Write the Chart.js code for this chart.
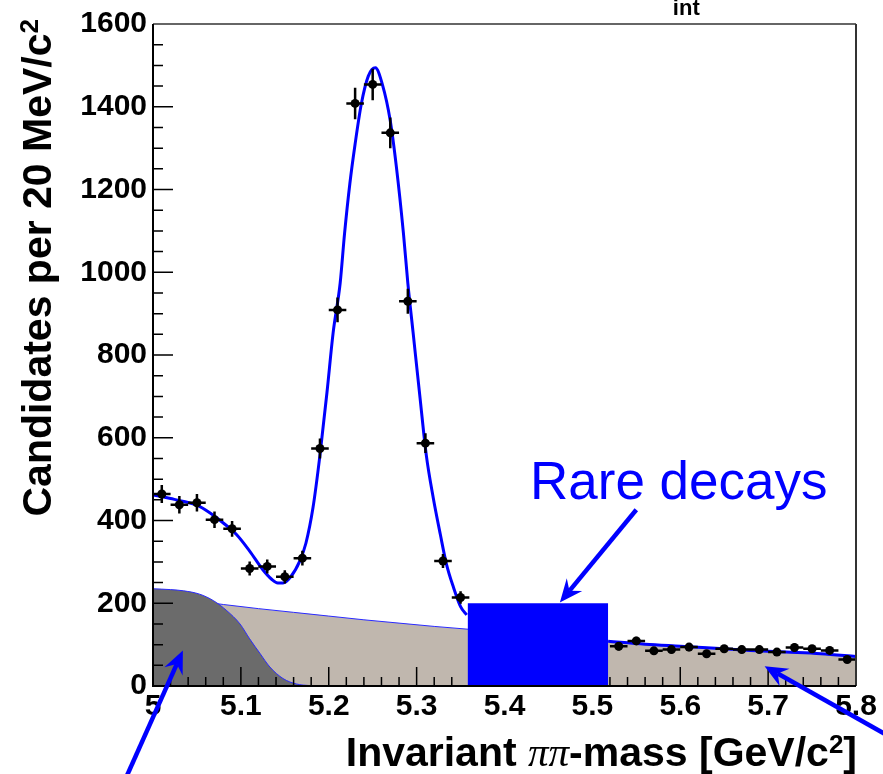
<!DOCTYPE html>
<html lang="en">
<head>
  <meta charset="UTF-8" />
  <title>Invariant pi pi mass</title>
  <script src="https://cdn.jsdelivr.net/npm/chart.js"></script>
  <style>
    html, body { margin: 0; padding: 0; background: #fff; }
    #wrap { width: 883px; height: 774px; }
  </style>
</head>
<body>
  <div id="wrap"><canvas id="chart" width="883" height="774"></canvas></div>

  <script>
    // binned data (bin centres, 20 MeV bins), blinded region removed
    const massBins = [5.01, 5.03, 5.05, 5.07, 5.09, 5.11, 5.13, 5.15, 5.17, 5.19, 5.21, 5.23, 5.25, 5.27, 5.29, 5.31, 5.33, 5.35,
                      5.53, 5.55, 5.57, 5.59, 5.61, 5.63, 5.65, 5.67, 5.69, 5.71, 5.73, 5.75, 5.77, 5.79];
    const counts = [464, 438, 443, 402, 380, 284, 289, 264, 309, 574, 909, 1408, 1454, 1337, 930, 587, 302, 214,
                    96, 109, 85, 88, 94, 78, 90, 88, 88, 82, 93, 90, 86, 64];
    const countErrs = [22, 21, 21, 20, 19, 17, 17, 16, 18, 24, 30, 38, 38, 37, 30, 24, 17, 15,
                       10, 10, 9, 9, 10, 9, 9, 9, 9, 9, 10, 9, 9, 8];
    const binHalf = 0.01;

    // total fit curve (gap under the blinded box)
    const fitMass = [5.0, 5.02, 5.035, 5.05, 5.065, 5.08, 5.095, 5.11, 5.125, 5.135, 5.142, 5.148, 5.156, 5.167, 5.174,
                     5.182, 5.19, 5.198, 5.205, 5.213, 5.218, 5.224, 5.23, 5.237, 5.245, 5.253, 5.261, 5.27, 5.277, 5.285,
                     5.29, 5.296, 5.304, 5.311, 5.319, 5.327, 5.334, 5.342, 5.35, 5.357,
                     5.44,
                     5.518, 5.56, 5.6, 5.64, 5.68, 5.72, 5.76, 5.8];
    const fitValues = [462, 453, 446, 437, 418, 394, 366, 326, 281, 258, 249, 249, 262, 302, 345,
                       430, 558, 710, 854, 974, 1094, 1214, 1310, 1406, 1474, 1494, 1454, 1366, 1254, 1094,
                       974, 854, 694, 558, 454, 366, 294, 238, 192, 172,
                       null,
                       108, 101, 96, 91, 86, 82, 78, 71];

    // combinatorial background
    const combMass = [5.0, 5.04, 5.08, 5.12, 5.16, 5.2, 5.24, 5.28, 5.32, 5.36, 5.4, 5.44, 5.48, 5.52,
                      5.56, 5.6, 5.64, 5.68, 5.72, 5.76, 5.8];
    const combValues = [219, 208, 197, 187, 178, 169, 160, 152, 144, 137, 130, 124, 116, 108,
                        102, 97, 92, 87, 82, 77, 71];

    // partially reconstructed background
    const partMass = [5.0, 5.02, 5.035, 5.053, 5.069, 5.084, 5.099, 5.11, 5.122, 5.133, 5.148, 5.163, 5.179, 5.2, 5.22];
    const partValues = [235, 233, 230, 222, 206, 182, 150, 114, 78, 46, 18, 5, 1, 0, 0];

    // blinded "rare decays" window
    const blindMass = [5.358, 5.518];
    const blindTop = 200;

    const xTickValues = [5, 5.1, 5.2, 5.3, 5.4, 5.5, 5.6, 5.7, 5.8];
    const xTickLabels = ['5', '5.1', '5.2', '5.3', '5.4', '5.5', '5.6', '5.7', '5.8'];
    const yTickValues = [0, 200, 400, 600, 800, 1000, 1200, 1400, 1600];
    const yTickLabels = ['0', '200', '400', '600', '800', '1000', '1200', '1400', '1600'];

    const BLUE = '#0000ff';
    const SANS = '"Liberation Sans", Arial, sans-serif';

    const pts = (xs, ys) => xs.map((x, i) => ({ x: x, y: ys[i] }));

    function drawInnerTicks(chart) {
      const { ctx, scales: { x, y }, chartArea: a } = chart;
      ctx.save();
      ctx.strokeStyle = '#000';
      ctx.lineWidth = 1.5;
      ctx.beginPath();
      for (let k = 0; k <= 40; k++) {
        const px = x.getPixelForValue(5 + k * 0.02);
        const len = k % 5 === 0 ? 19 : 9;
        ctx.moveTo(px, a.bottom);
        ctx.lineTo(px, a.bottom - len);
      }
      for (let k = 0; k <= 32; k++) {
        const py = y.getPixelForValue(k * 50);
        const len = k % 4 === 0 ? 20 : 10;
        ctx.moveTo(a.left, py);
        ctx.lineTo(a.left + len, py);
      }
      ctx.stroke();
      ctx.restore();
    }

    function drawErrorBars(chart) {
      const { ctx, scales: { x, y } } = chart;
      ctx.save();
      ctx.strokeStyle = '#000';
      ctx.lineWidth = 2.5;
      ctx.beginPath();
      massBins.forEach((m, i) => {
        const px = x.getPixelForValue(m);
        const py = y.getPixelForValue(counts[i]);
        ctx.moveTo(px, y.getPixelForValue(counts[i] - countErrs[i]));
        ctx.lineTo(px, y.getPixelForValue(counts[i] + countErrs[i]));
        ctx.moveTo(x.getPixelForValue(m - binHalf), py);
        ctx.lineTo(x.getPixelForValue(m + binHalf), py);
      });
      ctx.stroke();
      ctx.restore();
    }

    // arrows in data coordinates: [from, to]
    const arrows = [
      [[5.550, 426], [5.463, 202]],
      [[4.9585, -273], [5.034, 86]],
      [[5.8555, -143], [5.696, 48]]
    ];

    function drawArrow(ctx, x0, y0, x1, y1) {
      const ang = Math.atan2(y1 - y0, x1 - x0);
      const c = Math.cos(ang), s = Math.sin(ang);
      const head = 23, half = 10, notch = 15;
      ctx.beginPath();
      ctx.moveTo(x0, y0);
      ctx.lineTo(x1 - notch * c, y1 - notch * s);
      ctx.stroke();
      ctx.beginPath();
      ctx.moveTo(x1, y1);
      ctx.lineTo(x1 - head * c + half * s, y1 - head * s - half * c);
      ctx.lineTo(x1 - notch * c, y1 - notch * s);
      ctx.lineTo(x1 - head * c - half * s, y1 - head * s + half * c);
      ctx.closePath();
      ctx.fill();
    }

    // draws a row of [text, font, raise] pieces; returns total width
    function pieceWidth(ctx, parts) {
      let w = 0;
      parts.forEach(p => { ctx.font = p[1]; w += ctx.measureText(p[0]).width; });
      return w;
    }
    function drawPieces(ctx, parts, x0, y0) {
      let cx = x0;
      parts.forEach(p => {
        ctx.font = p[1];
        ctx.fillText(p[0], cx, y0 - (p[2] || 0));
        cx += ctx.measureText(p[0]).width;
      });
    }

    const rootLook = {
      id: 'rootLook',
      beforeDatasetDraw(chart, args) {
        const name = chart.data.datasets[args.index].label;
        if (name === 'Fit') drawInnerTicks(chart);
        if (name === 'Data') drawErrorBars(chart);
      },
      afterDraw(chart) {
        const { ctx, scales: { x, y }, chartArea: a } = chart;
        ctx.save();

        // frame
        ctx.lineWidth = 2;
        ctx.strokeStyle = '#666';
        ctx.beginPath();
        ctx.moveTo(a.left, a.top);
        ctx.lineTo(a.right, a.top);
        ctx.stroke();
        ctx.strokeStyle = '#333';
        ctx.beginPath();
        ctx.moveTo(a.right, a.top);
        ctx.lineTo(a.right, a.bottom);
        ctx.stroke();
        ctx.strokeStyle = '#000';
        ctx.beginPath();
        ctx.moveTo(a.left, a.top);
        ctx.lineTo(a.left, a.bottom);
        ctx.lineTo(a.right, a.bottom);
        ctx.stroke();

        const bold = 'bold 41px ' + SANS;
        const sup = 'bold 26px ' + SANS;
        ctx.fillStyle = '#000';
        ctx.textAlign = 'left';
        ctx.textBaseline = 'alphabetic';

        // y title, rotated, top end near the frame top
        const yParts = [['Candidates per 20 MeV/c', bold], ['2', sup, 13]];
        ctx.save();
        ctx.translate(51, a.top - 5);
        ctx.rotate(-Math.PI / 2);
        drawPieces(ctx, yParts, -pieceWidth(ctx, yParts), 0);
        ctx.restore();

        // x title, right aligned to the frame
        const xParts = [
          ['Invariant ', bold],
          ['ππ', 'italic 41px "Liberation Serif", serif'],
          ['-mass [GeV/c', bold],
          ['2', sup, 13],
          [']', bold]
        ];
        drawPieces(ctx, xParts, a.right + 1 - pieceWidth(ctx, xParts), 766);

        // cut-off label at the top
        ctx.font = 'bold 22px ' + SANS;
        ctx.fillText('int', x.getPixelForValue(5.5916), y.getPixelForValue(1621));

        // annotations
        ctx.fillStyle = BLUE;
        ctx.font = '53px ' + SANS;
        ctx.fillText('Rare decays', x.getPixelForValue(5.429), y.getPixelForValue(453));

        ctx.strokeStyle = BLUE;
        ctx.lineWidth = 4.5;
        arrows.forEach(([f, t]) => {
          drawArrow(ctx, x.getPixelForValue(f[0]), y.getPixelForValue(f[1]),
                    x.getPixelForValue(t[0]), y.getPixelForValue(t[1]));
        });
        ctx.restore();
      }
    };

    const tickFont = { family: SANS, size: 30, weight: 'bold' };

    new Chart(document.getElementById('chart'), {
      type: 'line',
      data: {
        datasets: [
          {
            label: 'Combinatorial',
            data: pts(combMass, combValues),
            fill: 'origin',
            backgroundColor: '#c0b7ae',
            borderColor: '#2a2aff',
            borderWidth: 1,
            pointRadius: 0,
            cubicInterpolationMode: 'monotone',
            order: 5
          },
          {
            label: 'Partial',
            data: pts(partMass, partValues),
            fill: 'origin',
            backgroundColor: '#6b6b6b',
            borderColor: '#2a2aff',
            borderWidth: 1,
            pointRadius: 0,
            cubicInterpolationMode: 'monotone',
            order: 4
          },
          {
            label: 'Fit',
            data: pts(fitMass, fitValues),
            fill: false,
            borderColor: BLUE,
            borderWidth: 3,
            pointRadius: 0,
            spanGaps: false,
            cubicInterpolationMode: 'monotone',
            order: 3
          },
          {
            label: 'Data',
            data: pts(massBins, counts),
            showLine: false,
            pointRadius: 4.5,
            pointBackgroundColor: '#000',
            pointBorderWidth: 0,
            order: 2
          },
          {
            label: 'Blinded',
            data: [{ x: blindMass[0], y: blindTop }, { x: blindMass[1], y: blindTop }],
            fill: 'origin',
            backgroundColor: BLUE,
            borderWidth: 0,
            pointRadius: 0,
            order: 1
          }
        ]
      },
      options: {
        responsive: false,
        animation: false,
        events: [],
        devicePixelRatio: 1,
        layout: { padding: { top: 19, right: 27, left: 0, bottom: 0 } },
        plugins: { legend: { display: false }, tooltip: { enabled: false } },
        scales: {
          x: {
            type: 'linear',
            min: 5,
            max: 5.8,
            afterBuildTicks: s => { s.ticks = xTickValues.map(v => ({ value: v })); },
            afterFit: s => { s.height = 88; },
            grid: { display: false, drawTicks: false },
            border: { display: false },
            ticks: {
              callback: (v, i) => xTickLabels[i],
              font: tickFont,
              color: '#000',
              padding: 3,
              autoSkip: false,
              maxRotation: 0
            }
          },
          y: {
            min: 0,
            max: 1600,
            afterBuildTicks: s => { s.ticks = yTickValues.map(v => ({ value: v })); },
            afterFit: s => { s.width = 153; },
            grid: { display: false, drawTicks: false },
            border: { display: false },
            ticks: {
              callback: (v, i) => yTickLabels[i],
              font: tickFont,
              color: '#000',
              padding: 6,
              autoSkip: false
            }
          }
        }
      },
      plugins: [rootLook]
    });
  </script>
</body>
</html>
